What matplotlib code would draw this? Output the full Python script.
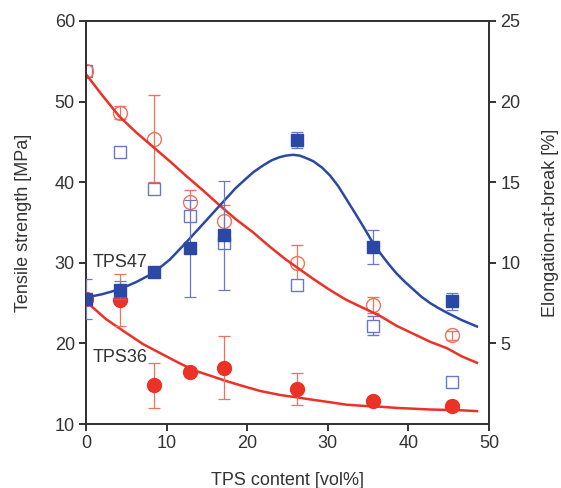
import matplotlib
matplotlib.use('Agg')
import matplotlib.pyplot as plt
import numpy as np

plt.rcParams['font.family'] = ['Liberation Sans', 'DejaVu Sans']

# TPS content [vol%]
tps = [0, 4.2, 8.4, 12.9, 17.1, 26.2, 35.6, 45.4]

# TPS47 tensile strength [MPa] (filled squares, left axis)
ts47 = [25.5, 26.6, 28.9, 31.8, 33.4, 45.2, 32.0, 25.2]
ts47_err = [2.5, 1.1, 0, 6.0, 6.8, 1.0, 2.1, 1.1]
# TPS36 tensile strength [MPa] (filled circles, left axis)
ts36 = [25.5, 25.4, 14.8, 16.5, 17.0, 14.3, 12.8, 12.2]
ts36_err = [0, 3.2, 2.8, 0, 3.9, 2.0, 0, 0]

# TPS47 elongation-at-break [%] (open squares, right axis)
eb47 = [21.9, 16.9, 14.6, 12.9, 11.2, 8.6, 6.1, 2.6]
eb47_err = [0, 0, 0, 0, 0.3, 0, 0.6, 0.2]
# TPS36 elongation-at-break [%] (open circles, right axis)
eb36 = [21.9, 19.3, 17.7, 13.8, 12.6, 10.0, 7.4, 5.5]
eb36_err = [0, 0.4, 2.7, 0.7, 1.0, 1.1, 0.5, 0.3]

# fit curves
fit47_x = [0, 2.0, 4.1, 6.2, 8.3, 10.4, 12.4, 14.5, 16.5, 18.6, 20.7, 22.0,
           23.0, 24.0, 24.8, 25.7, 26.5, 27.3, 28.2, 29.3, 30.3, 31.3, 32.3,
           33.3, 34.4, 35.4, 36.5, 37.5, 38.5, 39.6, 40.6, 41.6, 42.7, 43.7,
           44.8, 46.6, 48.5]
fit47_y = [25.7, 26.1, 26.7, 27.6, 28.7, 30.4, 32.5, 34.8, 37.0, 39.3, 41.2, 42.1,
           42.7, 43.1, 43.3, 43.4, 43.3, 43.0, 42.6, 41.8, 40.8, 39.5, 37.9,
           36.3, 34.5, 32.8, 31.2, 29.9, 28.7, 27.6, 26.7, 25.8, 25.0, 24.4,
           23.8, 22.9, 22.1]
fit36_x = [0, 2.5, 5.0, 7.1, 9.2, 11.3, 13.3, 15.4, 17.5, 19.5, 21.6, 24.1,
           26.2, 28.2, 30.3, 32.3, 34.4, 36.5, 38.5, 40.6, 42.7, 44.8, 46.6, 48.5]
fit36_y = [25.2, 23.0, 21.3, 19.9, 18.8, 17.7, 16.7, 16.0, 15.3, 14.7, 14.1, 13.6,
           13.3, 13.0, 12.7, 12.4, 12.25, 12.15, 12.0, 11.9, 11.8, 11.75, 11.7, 11.6]
fiteb_x = [0, 2.0, 4.1, 6.2, 8.3, 10.4, 12.4, 14.5, 16.5, 18.6, 20.7, 22.8, 24.8,
           26.5, 28.2, 30.3, 32.3, 34.4, 36.5, 38.5, 40.6, 42.7, 44.8, 46.6, 48.5]
fiteb_y = [21.7, 20.4, 19.1, 18.1, 17.2, 16.3, 15.4, 14.5, 13.6, 12.7, 11.9, 11.0, 10.2,
           9.6, 9.0, 8.3, 7.7, 7.2, 6.7, 6.1, 5.6, 5.1, 4.7, 4.2, 3.8]

blue = '#2b48a6'
blue_light = '#6877c6'
red = '#ec3127'
red_light = '#ee7358'
dark = '#333333'

fig = plt.figure(figsize=(5.61, 4.88), dpi=100)
ax = fig.add_axes([0.1533, 0.1311, 0.7184, 0.8259])
ax2 = ax.twinx()

# right axis: elongation
ax2.errorbar(tps, eb47, yerr=eb47_err, fmt='s', ms=8, mfc='white', mec=blue_light,
             mew=1.0, ecolor=blue_light, elinewidth=0.9, capsize=4, capthick=0.9, zorder=2)
ax2.errorbar(tps, eb36, yerr=eb36_err, fmt='o', ms=10, mfc='none', mec=red_light,
             mew=1.0, ecolor=red_light, elinewidth=0.9, capsize=4, capthick=0.9, zorder=2)
ax2.plot(fiteb_x, fiteb_y, color=red, lw=1.8, zorder=3)

# left axis: tensile strength
ax.errorbar(tps, ts36, yerr=ts36_err, fmt='o', ms=10, mfc=red, mec=red,
            ecolor=red_light, elinewidth=0.9, capsize=4, capthick=0.9, zorder=4)
ax.errorbar(tps, ts47, yerr=ts47_err, fmt='s', ms=9, mfc=blue, mec=blue,
            ecolor=blue_light, elinewidth=0.9, capsize=4, capthick=0.9, zorder=5)
ax.plot(fit47_x, fit47_y, color=blue, lw=1.8, zorder=3)
ax.plot(fit36_x, fit36_y, color=red, lw=1.8, zorder=3)

ax.text(0.8, 30.0, 'TPS47', fontsize=13, color=dark, va='center', zorder=6)
ax.text(0.8, 18.2, 'TPS36', fontsize=13, color=dark, va='center', zorder=6)

ax.set_zorder(ax2.get_zorder() + 1)
ax.patch.set_visible(False)

ax.set_xlim(0, 50)
ax.set_ylim(10, 60)
ax2.set_ylim(0, 25)
ax.set_xticks([0, 10, 20, 30, 40, 50])
ax.set_yticks([10, 20, 30, 40, 50, 60])
ax2.set_yticks([5, 10, 15, 20, 25])

for a in (ax, ax2):
    for s in a.spines.values():
        s.set_color(dark)
        s.set_linewidth(1.4)
    a.tick_params(direction='out', length=5, width=1.4, color=dark,
                  labelcolor=dark, labelsize=13, pad=3)

ax.set_xlabel('TPS content [vol%]', fontsize=13, color=dark, labelpad=14)
ax.set_ylabel('Tensile strength [MPa]', fontsize=13, color=dark, labelpad=16)
ax2.set_ylabel('Elongation-at-break [%]', fontsize=13, color=dark, labelpad=16)

fig.savefig('out.png', dpi=100)
